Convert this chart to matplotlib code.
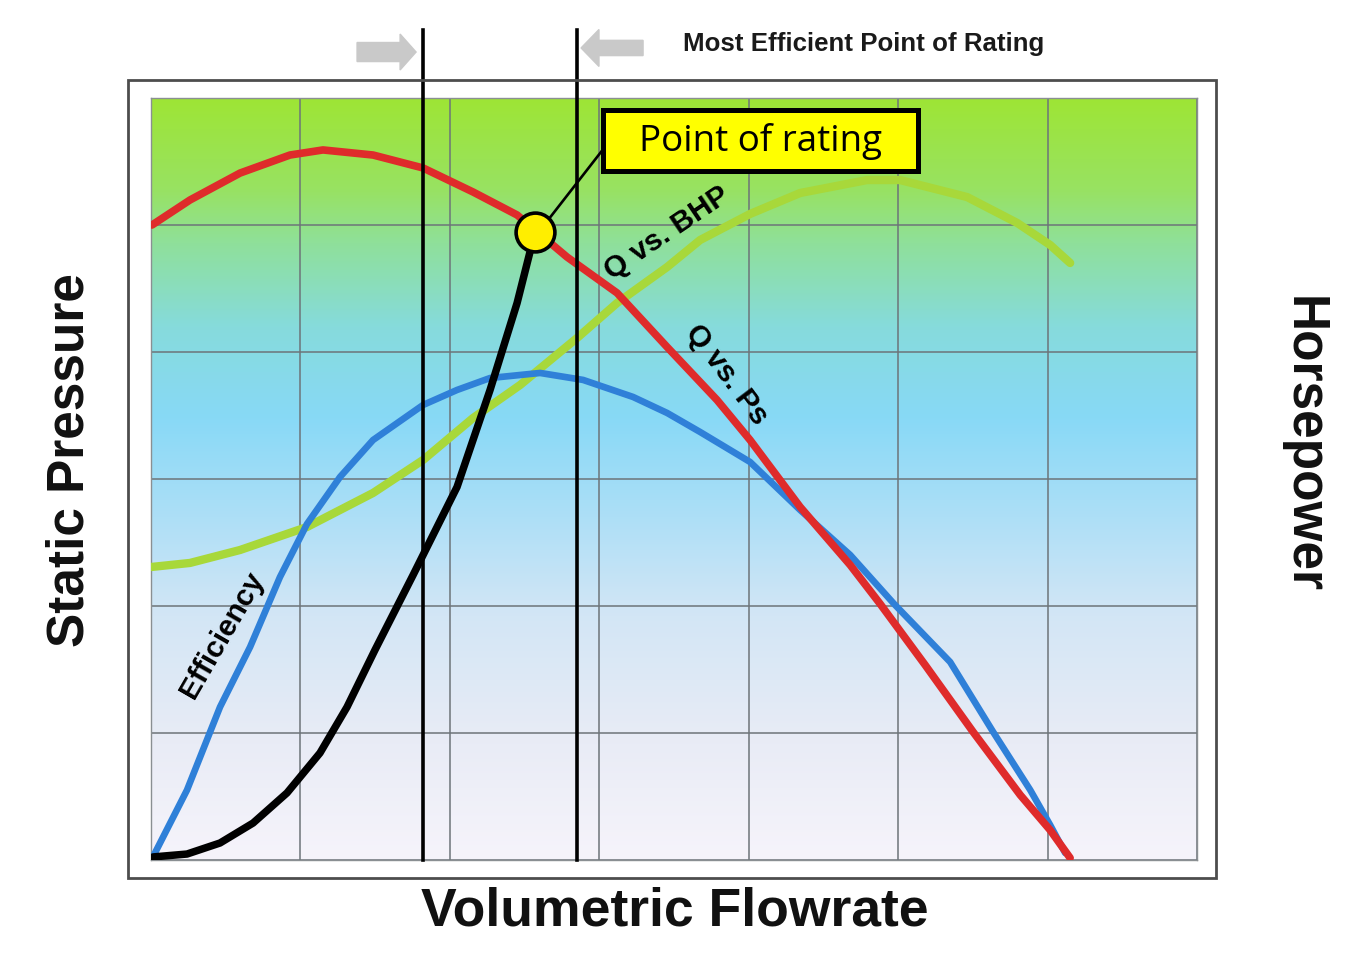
import numpy as np
import matplotlib.pyplot as plt
from matplotlib.colors import LinearSegmentedColormap
from matplotlib.patches import Rectangle, FancyArrow

# curve values (x: 7 grid columns, y: 6 grid rows)
ps_x = [0.007, 0.261, 0.596, 0.930, 1.151, 1.486, 1.821, 2.155, 2.450, 2.784,
        3.119, 3.454, 3.788, 4.009, 4.344, 4.679, 4.880, 5.181, 5.502, 5.817,
        6.017, 6.151]
ps_y = [5.000, 5.197, 5.409, 5.551, 5.591, 5.551, 5.449, 5.260, 5.079, 4.748,
        4.465, 4.039, 3.622, 3.307, 2.780, 2.323, 2.016, 1.535, 1.008, 0.512,
        0.236, 0.016]

bhp_x = [0.0, 0.261, 0.596, 1.044, 1.486, 1.821, 2.155, 2.470, 2.851, 3.119,
         3.454, 3.675, 4.009, 4.344, 4.792, 5.013, 5.462, 5.797, 6.017, 6.151]
bhp_y = [2.307, 2.339, 2.441, 2.622, 2.890, 3.150, 3.480, 3.740, 4.110, 4.386,
         4.669, 4.882, 5.087, 5.252, 5.354, 5.354, 5.220, 5.016, 4.843, 4.701]

eff_x = [0.013, 0.241, 0.462, 0.663, 0.863, 1.044, 1.265, 1.486, 1.821, 2.048,
         2.269, 2.604, 2.892, 3.226, 3.454, 3.675, 4.009, 4.344, 4.679, 4.973,
         5.348, 5.636, 5.884, 6.017, 6.118]
eff_y = [0.024, 0.551, 1.205, 1.677, 2.228, 2.646, 3.016, 3.307, 3.583, 3.701,
         3.795, 3.835, 3.780, 3.646, 3.520, 3.370, 3.134, 2.756, 2.402, 2.016,
         1.559, 1.008, 0.551, 0.276, 0.055]

sys_x = [0.013, 0.241, 0.462, 0.683, 0.910, 1.131, 1.312, 1.499, 1.754, 2.048,
         2.269, 2.450, 2.570]
sys_y = [0.024, 0.047, 0.134, 0.291, 0.528, 0.843, 1.205, 1.654, 2.244, 2.937,
         3.701, 4.386, 4.945]

rating_range = [1.82, 2.85]
rating_point = [2.57, 4.945]

W, H = 1356, 956
fig = plt.figure(figsize=(W / 100, H / 100), dpi=100)
fig.patch.set_facecolor("white")

ax = fig.add_axes([151 / W, 1 - 860 / H, 1046 / W, 762 / H])
ax.set_xlim(0, 7)
ax.set_ylim(0, 6)

# gradient background
bg = LinearSegmentedColormap.from_list(
    "bg",
    [(0.0, "#9ee535"), (0.12, "#98e262"), (0.19, "#8fe09a"), (0.3, "#86dbdc"),
     (0.42, "#88d9f6"), (0.55, "#addff7"), (0.68, "#d3e6f5"), (0.85, "#e9ecf6"),
     (1.0, "#f6f4fb")]
)
grad = np.linspace(0, 1, 256).reshape(-1, 1)
ax.imshow(grad, cmap=bg, extent=[0, 7, 0, 6], aspect="auto",
          origin="upper", zorder=0, vmin=0, vmax=1)

ax.set_xticks(np.arange(0, 8))
ax.set_yticks(np.arange(0, 7))
ax.grid(True, color="#6d7479", linewidth=1.1, zorder=1)
ax.tick_params(length=0, labelbottom=False, labelleft=False)
for s in ax.spines.values():
    s.set_color("#8a8f92")
    s.set_linewidth(1.0)

# outer frame
fig.add_artist(Rectangle((128 / W, 1 - 878 / H), 1088 / W, 798 / H,
                         transform=fig.transFigure, fill=False,
                         edgecolor="#4d4d4d", linewidth=2.0))

line_kw = dict(solid_capstyle="round", solid_joinstyle="round")
ax.plot(ps_x, ps_y, color="#df2b2b", linewidth=5.5, zorder=4, **line_kw)
ax.plot(bhp_x, bhp_y, color="#a8d83a", linewidth=6.0, zorder=3, **line_kw)
ax.plot(eff_x, eff_y, color="#2f80d8", linewidth=4.8, zorder=3, **line_kw)
ax.plot(sys_x, sys_y, color="black", linewidth=5.4, zorder=5, **line_kw)

for xv in rating_range:
    ax.plot([xv, xv], [0, 6.535], color="black", linewidth=2.6,
            clip_on=False, zorder=6)

# point of rating
ax.plot([2.657, 3.032], [5.039, 5.606], color="black", linewidth=1.9,
        zorder=6, clip_on=False)
ax.scatter([rating_point[0]], [rating_point[1]], s=780, color="#ffee00",
           edgecolor="black", linewidth=2.6, zorder=7)
ax.add_patch(Rectangle((3.025, 5.425), 2.109, 0.481, facecolor="#ffff00",
                       edgecolor="black", linewidth=3.6, zorder=8,
                       clip_on=False))
ax.text(4.08, 5.655, "Point of rating", fontsize=26.5, family="Open Sans",
        ha="center", va="center", zorder=9)

# grey arrows above
ax.add_patch(FancyArrow(1.379, 6.362, 0.395, 0, width=0.15, head_width=0.283,
                        head_length=0.107, length_includes_head=True,
                        color="#c9c9c9", clip_on=False))
ax.add_patch(FancyArrow(3.293, 6.394, -0.415, 0, width=0.12, head_width=0.291,
                        head_length=0.12, length_includes_head=True,
                        color="#c9c9c9", clip_on=False))

fig.text(683 / W, 1 - 44 / H, "Most Efficient Point of Rating",
         fontsize=18.6, fontweight="bold", family="Liberation Sans",
         ha="left", va="center", color="#1a1a1a")

# curve labels
lab = dict(fontsize=21.5, fontweight="bold", family="Liberation Sans",
           ha="center", va="center", rotation_mode="anchor", zorder=6)
ax.text(3.454, 4.937, "Q vs. BHP", rotation=34, **lab)
ax.text(3.855, 3.819, "Q vs. Ps", rotation=-53, **lab)
ax.text(0.475, 1.772, "Efficiency", rotation=60, **lab)

# axis titles
big = dict(fontsize=37, fontweight="bold", family="Liberation Sans",
           ha="center", va="center", color="#111111")
fig.text(70 / W, 1 - 460 / H, "Static Pressure", rotation=90, **big)
fig.text(1303 / W, 1 - 445 / H, "Horsepower", rotation=-90, **big)
fig.text(675 / W, 1 - 912 / H, "Volumetric Flowrate",
         **{**big, "fontsize": 38.5})

fig.savefig("out.png", dpi=100)
